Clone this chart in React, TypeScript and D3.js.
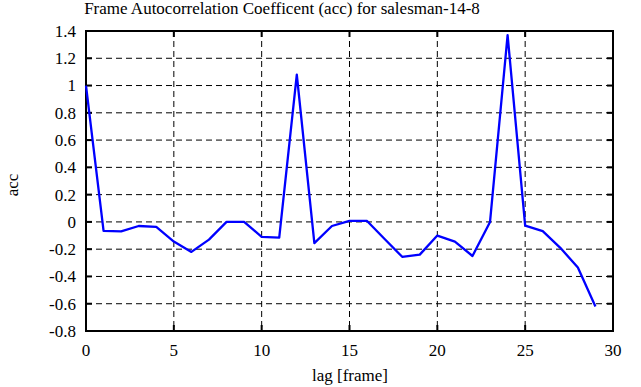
import React from "react";
import * as d3 from "d3";

const lags = [0,1,2,3,4,5,6,7,8,9,10,11,12,13,14,15,16,17,18,19,20,21,22,23,24,25,26,27,28,29];
const acc = [1.0,-0.066,-0.07,-0.03,-0.037,-0.144,-0.22,-0.13,0.0,0.0,-0.11,-0.115,1.08,-0.156,-0.03,0.008,0.007,-0.125,-0.256,-0.24,-0.1,-0.144,-0.25,0.0,1.37,-0.027,-0.068,-0.19,-0.334,-0.62];
const xTicks = [0,5,10,15,20,25,30];
const yTicks = [-0.8,-0.6,-0.4,-0.2,0,0.2,0.4,0.6,0.8,1,1.2,1.4];
const title = "Frame Autocorrelation Coefficent (acc) for salesman-14-8";
const xLabel = "lag [frame]";
const yLabel = "acc";

const W = 641, H = 387;
const L = 86, R = 613, T = 31, B = 331;
const FONT = "Liberation Serif, DejaVu Serif, serif";

export default function App() {
  const x = d3.scaleLinear().domain([0, 30]).range([L, R]);
  const y = d3.scaleLinear().domain([-0.8, 1.4]).range([B, T]);
  const line = d3.line<number>().x((_, i) => x(lags[i])).y((d) => y(d));
  const fmt = (v: number) => String(Math.round(v * 10) / 10);
  const ts = { fontFamily: FONT, fontSize: 17 };
  return (
    <svg width={W} height={H} style={{ position: "absolute", left: 0, top: 0, background: "#fff" }}>
      <rect x={0} y={0} width={W} height={H} fill="#fff" />
      {yTicks.slice(1, -1).map((t) => (
        <line key={"gy" + t} x1={L} x2={R} y1={y(t)} y2={y(t)} stroke="#000" strokeWidth={1} strokeDasharray="6,4" />
      ))}
      {xTicks.slice(1, -1).map((t) => (
        <line key={"gx" + t} x1={x(t)} x2={x(t)} y1={T} y2={B} stroke="#000" strokeWidth={1} strokeDasharray="6,4" />
      ))}
      {yTicks.map((t) => (
        <g key={"ty" + t}>
          <line x1={L} x2={L + 6} y1={y(t)} y2={y(t)} stroke="#000" strokeWidth={2} />
          <line x1={R - 6} x2={R} y1={y(t)} y2={y(t)} stroke="#000" strokeWidth={2} />
          <text x={L - 10} y={y(t)} dy="0.35em" textAnchor="end" style={ts}>{fmt(t)}</text>
        </g>
      ))}
      {xTicks.map((t) => (
        <g key={"tx" + t}>
          <line x1={x(t)} x2={x(t)} y1={B} y2={B - 6} stroke="#000" strokeWidth={2} />
          <line x1={x(t)} x2={x(t)} y1={T} y2={T + 6} stroke="#000" strokeWidth={2} />
          <text x={x(t)} y={356} textAnchor="middle" style={ts}>{t}</text>
        </g>
      ))}
      <rect x={L} y={T} width={R - L} height={B - T} fill="none" stroke="#000" strokeWidth={2} />
      <path d={line(acc) || ""} fill="none" stroke="#0000ff" strokeWidth={2.3} strokeLinejoin="round" />
      <text x={282} y={14} textAnchor="middle" style={ts}>{title}</text>
      <text x={350} y={381} textAnchor="middle" style={ts}>{xLabel}</text>
      <text transform={`translate(18,185) rotate(-90)`} textAnchor="middle" style={ts}>{yLabel}</text>
    </svg>
  );
}
